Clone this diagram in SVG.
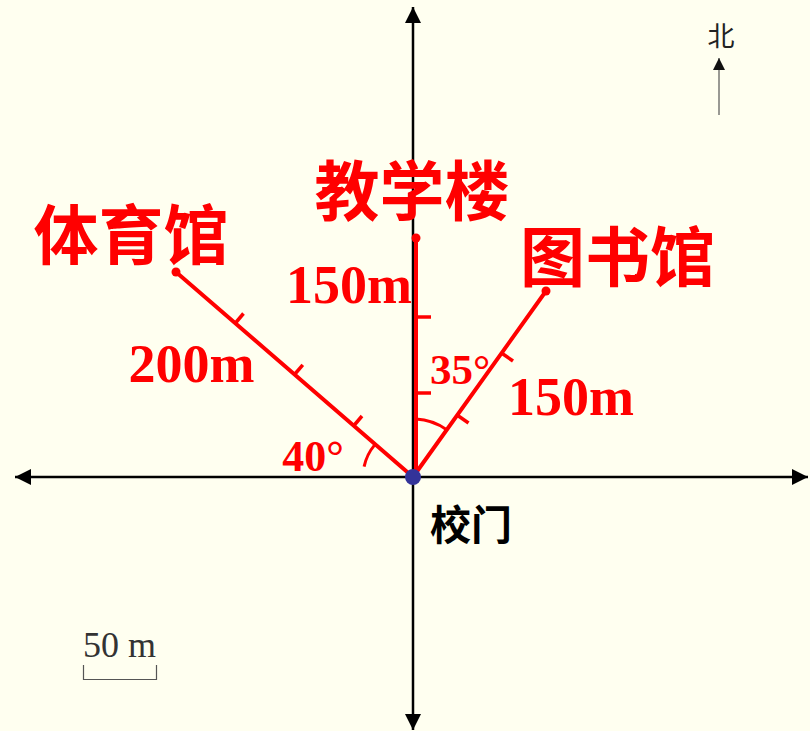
<svg xmlns="http://www.w3.org/2000/svg" width="810" height="731" viewBox="0 0 810 731">
<style>
.axis{stroke:#000;stroke-width:2.5;fill:none}
.red{stroke:#FF0000;stroke-width:4;fill:none;stroke-linecap:round}
.tick{stroke:#FF0000;stroke-width:3.5;fill:none}
.arc{stroke:#FF0000;stroke-width:3;fill:none}
.cjk{font-family:"Noto Sans CJK SC","Noto Sans",sans-serif;font-weight:bold;fill:#FF0000;text-anchor:middle}
.num{font-family:"Liberation Serif","Times New Roman",serif;font-weight:bold;fill:#FF0000;text-anchor:middle}
.gray{stroke:#555;stroke-width:1.2;fill:none}
</style>
<defs>
<marker id="ah" viewBox="0 0 16 16" refX="16" refY="8" markerWidth="16" markerHeight="16" markerUnits="userSpaceOnUse" orient="auto">
<path d="M0,0 L16,8 L0,16 Z" fill="#000"/>
</marker>
<marker id="nh" viewBox="0 0 12 15" refX="12" refY="6" markerWidth="12" markerHeight="15" markerUnits="userSpaceOnUse" orient="auto">
<path d="M0,0 L12,6 L0,12 Z" fill="#111"/>
</marker>
</defs>
<rect width="810" height="731" fill="#FFFFF0"/>
<g id="connectors">
<line class="axis" x1="413" y1="477" x2="15" y2="477" marker-end="url(#ah)"/>
<line class="axis" x1="413" y1="477" x2="808" y2="477" marker-end="url(#ah)"/>
<line class="axis" x1="413" y1="477" x2="413" y2="7" marker-end="url(#ah)"/>
<line class="axis" x1="413" y1="477" x2="413" y2="730" marker-end="url(#ah)"/>
<line class="red" x1="416" y1="477" x2="416" y2="238"/>
<line class="red" x1="413" y1="477" x2="546" y2="291"/>
<line class="red" x1="413" y1="477" x2="176" y2="272"/>
<line class="tick" x1="416" y1="393" x2="431" y2="393"/>
<line class="tick" x1="416" y1="317" x2="431" y2="317"/>
<line class="tick" x1="457" y1="415" x2="468.5" y2="423"/>
<line class="tick" x1="501.5" y1="353" x2="513" y2="361"/>
<line class="tick" x1="353.75" y1="425.75" x2="362" y2="416"/>
<line class="tick" x1="294.5" y1="374.5" x2="302.8" y2="364.8"/>
<line class="tick" x1="235.25" y1="323.25" x2="243.5" y2="313.5"/>
<path class="arc" d="M416,419 A58,58 0 0 1 446.3,429.5"/>
<path class="arc" d="M364.1,466.6 A50,50 0 0 1 374.7,444.9"/>
</g>
<g id="school-gate">
<circle cx="413" cy="477" r="8" fill="#333399"/>
<text x="471" y="540" font-family="'Noto Sans CJK SC','Noto Sans',sans-serif" font-weight="bold" font-size="41" text-anchor="middle" fill="#000">校门</text>
</g>
<g id="teaching-building">
<circle cx="416" cy="238" r="4.5" fill="#FF0000"/>
<text class="cjk" x="412" y="215" font-size="65">教学楼</text>
<text class="num" x="349" y="303" font-size="54">150m</text>
</g>
<g id="library">
<circle cx="546" cy="291" r="4.5" fill="#FF0000"/>
<text class="cjk" x="617.5" y="281" font-size="65">图书馆</text>
<text class="num" x="571" y="415" font-size="54">150m</text>
<text class="num" x="460" y="384" font-size="43">35°</text>
</g>
<g id="gym">
<circle cx="176" cy="272" r="4.5" fill="#FF0000"/>
<text class="cjk" x="131" y="259" font-size="65">体育馆</text>
<text class="num" x="191.5" y="382" font-size="54">200m</text>
<text class="num" x="313" y="471" font-size="44">40°</text>
</g>
<g id="north">
<text x="721" y="46" font-family="'Noto Sans CJK SC','Noto Sans',sans-serif" font-size="27" text-anchor="middle" fill="#222">北</text>
<line class="gray" x1="719" y1="115" x2="719" y2="58" marker-end="url(#nh)"/>
</g>
<g id="scale">
<text x="83" y="657" font-family="'Liberation Serif','Times New Roman',serif" font-size="36" fill="#333">50 m</text>
<path class="gray" d="M83.5,665 V679.5 H156.5 V665"/>
</g>
</svg>
